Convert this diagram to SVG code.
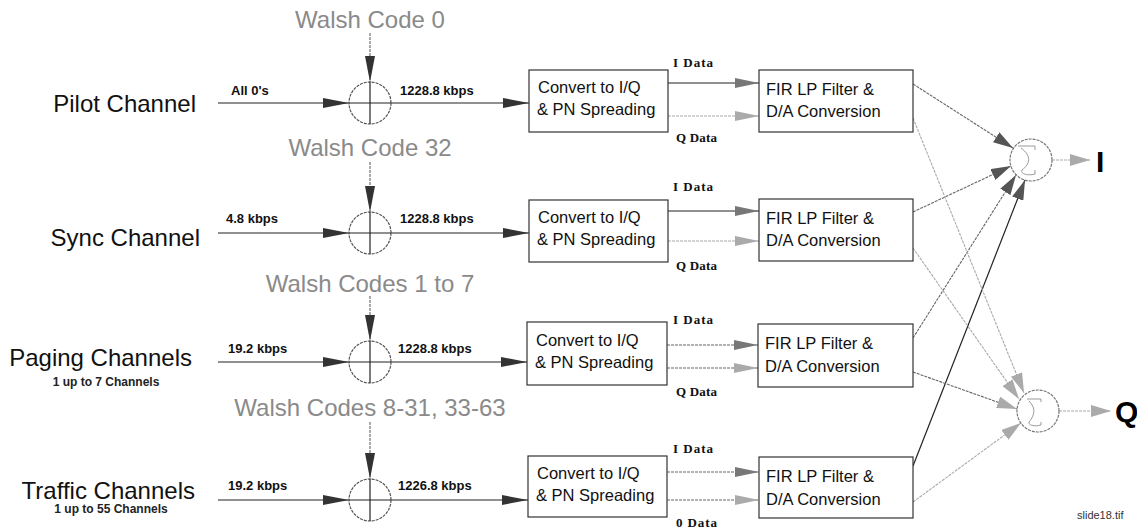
<svg xmlns="http://www.w3.org/2000/svg" width="1137" height="529" viewBox="0 0 1137 529">
<style>
.bg{fill:#fff}
.ch{font-family:"Liberation Sans",Arial,sans-serif;font-size:24px;fill:#111}
.sub{font-family:"Liberation Sans",Arial,sans-serif;font-size:12px;font-weight:bold;fill:#222}
.rate{font-family:"Liberation Sans",Arial,sans-serif;font-size:13px;font-weight:bold;fill:#111}
.walsh{font-family:"Liberation Sans",Arial,sans-serif;font-size:24px;fill:#8a8a8a;text-anchor:middle}
.bx{font-family:"Liberation Sans",Arial,sans-serif;font-size:16.5px;fill:#111}
.dl{font-family:"Liberation Serif","Times New Roman",serif;font-size:13px;font-weight:bold;fill:#111}
.big{font-family:"Liberation Sans",Arial,sans-serif;font-size:30px;font-weight:bold;fill:#000}
.foot{font-family:"Liberation Sans",Arial,sans-serif;font-size:11px;fill:#333}
.box{fill:#fff;stroke:#333;stroke-width:1.2}
.xor{fill:none;stroke:#555;stroke-width:1.2;stroke-dasharray:3,1}
.sum{fill:none;stroke:#777;stroke-width:1.2;stroke-dasharray:3,1}
.sig{fill:none;stroke:#999;stroke-width:1}
.k{stroke:#222;stroke-width:1.2;fill:none}
.g{stroke:#666;stroke-width:1.1;fill:none;stroke-dasharray:3,1}
.lg{stroke:#aaa;stroke-width:1.1;fill:none;stroke-dasharray:3,1}
</style>
<defs>
<marker id="ak" viewBox="0 0 26 10" refX="26" refY="5" markerWidth="26" markerHeight="10" markerUnits="userSpaceOnUse" orient="auto"><path d="M0,0 L26,5 L0,10 z" fill="#333"/></marker>
<marker id="ag" viewBox="0 0 24 10" refX="24" refY="5" markerWidth="24" markerHeight="10" markerUnits="userSpaceOnUse" orient="auto"><path d="M0,0 L24,5 L0,10 z" fill="#777"/></marker>
<marker id="al" viewBox="0 0 24 10" refX="24" refY="5" markerWidth="24" markerHeight="10" markerUnits="userSpaceOnUse" orient="auto"><path d="M0,0 L24,5 L0,10 z" fill="#aaa"/></marker>
<marker id="as" viewBox="0 0 20 12" refX="20" refY="6" markerWidth="20" markerHeight="12" markerUnits="userSpaceOnUse" orient="auto"><path d="M0,0 L20,6 L0,12 z" fill="#555"/></marker>
<marker id="asl" viewBox="0 0 20 12" refX="20" refY="6" markerWidth="20" markerHeight="12" markerUnits="userSpaceOnUse" orient="auto"><path d="M0,0 L20,6 L0,12 z" fill="#aaa"/></marker>
</defs>
<rect class="bg" x="0" y="0" width="1137" height="529"/>

<g id="connectors">
  <!-- row 1 -->
  <line class="g" x1="370" y1="33" x2="370" y2="82" marker-end="url(#ak)"/>
  <line class="k" x1="218" y1="103" x2="349" y2="103" marker-end="url(#ak)"/>
  <line class="k" x1="391" y1="103" x2="529" y2="103" marker-end="url(#ak)"/>
  <line class="k" x1="668" y1="83" x2="759" y2="83" marker-end="url(#ag)"/>
  <line class="lg" x1="668" y1="116" x2="759" y2="116" marker-end="url(#al)"/>
  <!-- row 2 -->
  <line class="g" x1="370" y1="162" x2="370" y2="212" marker-end="url(#ak)"/>
  <line class="k" x1="218" y1="233" x2="349" y2="233" marker-end="url(#ak)"/>
  <line class="k" x1="391" y1="233" x2="529" y2="233" marker-end="url(#ak)"/>
  <line class="k" x1="668" y1="211" x2="759" y2="211" marker-end="url(#ag)"/>
  <line class="lg" x1="668" y1="241" x2="759" y2="241" marker-end="url(#al)"/>
  <!-- row 3 -->
  <line class="g" x1="370" y1="296" x2="370" y2="341" marker-end="url(#ak)"/>
  <line class="k" x1="218" y1="362" x2="349" y2="362" marker-end="url(#ak)"/>
  <line class="k" x1="391" y1="362" x2="527" y2="362" marker-end="url(#ak)"/>
  <line class="g" x1="667" y1="345" x2="758" y2="345" marker-end="url(#ag)"/>
  <line class="g" x1="667" y1="368" x2="758" y2="368" marker-end="url(#al)"/>
  <!-- row 4 -->
  <line class="g" x1="370" y1="422" x2="370" y2="479" marker-end="url(#ak)"/>
  <line class="k" x1="218" y1="500" x2="349" y2="500" marker-end="url(#ak)"/>
  <line class="k" x1="391" y1="500" x2="528" y2="500" marker-end="url(#ak)"/>
  <line class="g" x1="667" y1="472" x2="759" y2="472" marker-end="url(#ag)"/>
  <line class="g" x1="667" y1="500" x2="759" y2="500" marker-end="url(#al)"/>
  <!-- to I summer -->
  <line class="g" x1="913" y1="84" x2="1013" y2="148" marker-end="url(#as)"/>
  <line class="g" x1="913" y1="212" x2="1011" y2="166" marker-end="url(#as)"/>
  <line class="g" x1="913" y1="338" x2="1016" y2="175" marker-end="url(#as)"/>
  <line class="k" x1="913" y1="466" x2="1025" y2="180" marker-end="url(#as)"/>
  <!-- to Q summer -->
  <line class="lg" x1="913" y1="118" x2="1024" y2="393" marker-end="url(#asl)"/>
  <line class="lg" x1="913" y1="248" x2="1019" y2="399" marker-end="url(#asl)"/>
  <line class="g" x1="913" y1="372" x2="1017" y2="409" marker-end="url(#asl)"/>
  <line class="lg" x1="913" y1="502" x2="1021" y2="423" marker-end="url(#asl)"/>
  <!-- outputs -->
  <line class="lg" x1="1052" y1="160" x2="1090" y2="160" marker-end="url(#asl)"/>
  <line class="lg" x1="1059" y1="411" x2="1111" y2="411" marker-end="url(#asl)"/>
</g>

<g id="row1-labels">
  <text class="ch" x="196" y="112" text-anchor="end">Pilot Channel</text>
  <text class="walsh" x="370" y="28">Walsh Code 0</text>
  <text class="rate" x="231" y="95">All 0's</text>
  <text class="rate" x="400" y="95">1228.8 kbps</text>
</g>
<g id="xor1"><circle class="xor" cx="370" cy="103" r="21"/><line class="k" x1="370" y1="82" x2="370" y2="124"/><line class="k" x1="349" y1="103" x2="391" y2="103"/></g>
<g id="conv1"><rect class="box" x="529" y="70" width="139" height="62"/><text class="bx" x="538" y="93">Convert to I/Q</text><text class="bx" x="537" y="115">&amp; PN Spreading</text></g>
<g id="fir1"><rect class="box" x="759" y="70" width="154" height="62"/><text class="bx" x="766" y="95">FIR LP Filter &amp;</text><text class="bx" x="766" y="117">D/A Conversion</text></g>
<text class="dl" x="673" y="67" textLength="40">I Data</text>
<text class="dl" x="676" y="142" textLength="41">Q Data</text>

<g id="row2-labels">
  <text class="ch" x="200" y="246" text-anchor="end">Sync Channel</text>
  <text class="walsh" x="370" y="156">Walsh Code 32</text>
  <text class="rate" x="226" y="223">4.8 kbps</text>
  <text class="rate" x="400" y="223">1228.8 kbps</text>
</g>
<g id="xor2"><circle class="xor" cx="370" cy="233" r="21"/><line class="k" x1="370" y1="212" x2="370" y2="254"/><line class="k" x1="349" y1="233" x2="391" y2="233"/></g>
<g id="conv2"><rect class="box" x="529" y="200" width="139" height="62"/><text class="bx" x="538" y="223">Convert to I/Q</text><text class="bx" x="537" y="245">&amp; PN Spreading</text></g>
<g id="fir2"><rect class="box" x="759" y="199" width="154" height="62"/><text class="bx" x="766" y="224">FIR LP Filter &amp;</text><text class="bx" x="766" y="246">D/A Conversion</text></g>
<text class="dl" x="673" y="191" textLength="40">I Data</text>
<text class="dl" x="676" y="270" textLength="41">Q Data</text>

<g id="row3-labels">
  <text class="ch" x="192" y="366" text-anchor="end">Paging Channels</text>
  <text class="sub" x="106" y="386" text-anchor="middle">1 up to 7 Channels</text>
  <text class="walsh" x="370" y="292">Walsh Codes 1 to 7</text>
  <text class="rate" x="228" y="353">19.2 kbps</text>
  <text class="rate" x="398" y="353">1228.8 kbps</text>
</g>
<g id="xor3"><circle class="xor" cx="370" cy="362" r="21"/><line class="k" x1="370" y1="341" x2="370" y2="383"/><line class="k" x1="349" y1="362" x2="391" y2="362"/></g>
<g id="conv3"><rect class="box" x="527" y="322" width="140" height="63"/><text class="bx" x="536" y="346">Convert to I/Q</text><text class="bx" x="535" y="368">&amp; PN Spreading</text></g>
<g id="fir3"><rect class="box" x="758" y="324" width="155" height="63"/><text class="bx" x="765" y="349">FIR LP Filter &amp;</text><text class="bx" x="765" y="372">D/A Conversion</text></g>
<text class="dl" x="673" y="324" textLength="40">I Data</text>
<text class="dl" x="676" y="396" textLength="41">Q Data</text>

<g id="row4-labels">
  <text class="ch" x="195" y="499" text-anchor="end">Traffic Channels</text>
  <text class="sub" x="111" y="513" text-anchor="middle">1 up to 55 Channels</text>
  <text class="walsh" x="370" y="416">Walsh Codes 8-31, 33-63</text>
  <text class="rate" x="228" y="490">19.2 kbps</text>
  <text class="rate" x="398" y="490">1226.8 kbps</text>
</g>
<g id="xor4"><circle class="xor" cx="370" cy="500" r="21"/><line class="k" x1="370" y1="479" x2="370" y2="521"/><line class="k" x1="349" y1="500" x2="391" y2="500"/></g>
<g id="conv4"><rect class="box" x="528" y="456" width="139" height="61"/><text class="bx" x="537" y="479">Convert to I/Q</text><text class="bx" x="536" y="501">&amp; PN Spreading</text></g>
<g id="fir4"><rect class="box" x="759" y="457" width="154" height="61"/><text class="bx" x="766" y="482">FIR LP Filter &amp;</text><text class="bx" x="766" y="505">D/A Conversion</text></g>
<text class="dl" x="673" y="453" textLength="40">I Data</text>
<text class="dl" x="676" y="527" textLength="41">0 Data</text>

<g id="sumI"><circle class="sum" cx="1031" cy="160" r="21"/><path class="sig" d="M1018,146 H1035 V150 M1021,148 C1032,156 1030,164 1022,170 C1020,174 1028,176 1035,174 V170"/></g>
<g id="sumQ"><circle class="sum" cx="1038" cy="411" r="21"/><path class="sig" d="M1027,399 H1041 V402 M1029,401 C1036,408 1035,415 1029,422 C1028,425 1034,427 1041,425 V422"/></g>
<text class="big" x="1096" y="172">I</text>
<text class="big" x="1115" y="422">Q</text>
<text class="foot" x="1077" y="519">slide18.tif</text>
</svg>
